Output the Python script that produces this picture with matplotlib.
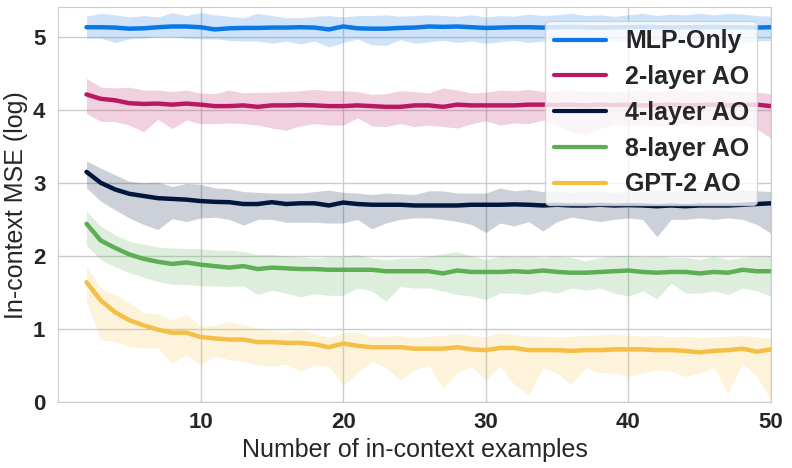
import numpy as np
import matplotlib
matplotlib.use("Agg")
import matplotlib.pyplot as plt
import seaborn as sns

x = list(range(2, 51))

labels = ["MLP-Only", "2-layer AO", "4-layer AO", "8-layer AO", "GPT-2 AO"]
colors = ["#0A77E6", "#B91964", "#00163C", "#5DAE55", "#F5BE46"]

mlp_mean = [5.13, 5.13, 5.125, 5.11, 5.115, 5.13, 5.14, 5.14, 5.13, 5.10, 5.115, 5.12, 5.12, 5.125, 5.125, 5.13, 5.125, 5.10, 5.14, 5.115, 5.11, 5.11, 5.12, 5.125,
            5.14, 5.135, 5.14, 5.13, 5.12, 5.125, 5.13, 5.13, 5.125, 5.13, 5.135, 5.13, 5.125, 5.13, 5.13, 5.135, 5.13, 5.125, 5.13, 5.13, 5.135, 5.13, 5.13, 5.125, 5.13]
mlp_upper = [5.28, 5.32, 5.30, 5.27, 5.29, 5.27, 5.33, 5.29, 5.33, 5.30, 5.28, 5.26, 5.32, 5.29, 5.26, 5.26, 5.28, 5.29, 5.27, 5.29, 5.29, 5.30, 5.28, 5.29,
             5.30, 5.29, 5.28, 5.30, 5.27, 5.29, 5.28, 5.31, 5.29, 5.30, 5.32, 5.29, 5.30, 5.28, 5.30, 5.32, 5.29, 5.31, 5.30, 5.32, 5.30, 5.32, 5.31, 5.29, 5.28]
mlp_lower = [4.98, 4.98, 4.92, 4.97, 4.98, 5.00, 5.00, 4.98, 4.97, 4.97, 4.95, 4.94, 4.94, 4.91, 4.94, 4.90, 4.94, 4.86, 4.92, 4.97, 4.89, 4.88, 4.96, 4.91,
             4.93, 4.95, 4.92, 4.94, 4.91, 4.93, 4.95, 4.92, 4.94, 4.91, 4.93, 4.95, 4.92, 4.94, 4.93, 4.91, 4.95, 4.93, 4.92, 4.94, 4.95, 4.93, 4.92, 4.94, 4.95]

l2_mean = [4.21, 4.15, 4.13, 4.09, 4.08, 4.085, 4.07, 4.085, 4.07, 4.05, 4.05, 4.06, 4.04, 4.06, 4.06, 4.065, 4.06, 4.05, 4.05, 4.06, 4.05, 4.04, 4.04, 4.06,
           4.06, 4.04, 4.07, 4.06, 4.06, 4.06, 4.06, 4.07, 4.07, 4.065, 4.07, 4.06, 4.07, 4.065, 4.07, 4.06, 4.065, 4.07, 4.06, 4.065, 4.07, 4.06, 4.07, 4.07, 4.05]
l2_upper = [4.43, 4.31, 4.30, 4.31, 4.27, 4.27, 4.25, 4.27, 4.23, 4.22, 4.27, 4.23, 4.24, 4.24, 4.25, 4.26, 4.28, 4.26, 4.26, 4.25, 4.21, 4.22, 4.26, 4.25,
            4.23, 4.30, 4.27, 4.23, 4.24, 4.27, 4.26, 4.28, 4.25, 4.26, 4.27, 4.25, 4.26, 4.24, 4.26, 4.27, 4.25, 4.28, 4.26, 4.25, 4.27, 4.26, 4.25, 4.24, 4.22]
l2_lower = [3.95, 3.84, 3.84, 3.79, 3.70, 3.87, 3.74, 3.86, 3.81, 3.81, 3.82, 3.81, 3.79, 3.75, 3.72, 3.78, 3.81, 3.79, 3.79, 3.89, 3.78, 3.77, 3.81, 3.77,
            3.79, 3.77, 3.75, 3.81, 3.85, 3.79, 3.82, 3.81, 3.86, 3.79, 3.70, 3.66, 3.74, 3.80, 3.78, 3.80, 3.77, 3.79, 3.81, 3.78, 3.80, 3.77, 3.79, 3.74, 3.61]

l4_mean = [3.15, 3.00, 2.91, 2.85, 2.82, 2.79, 2.78, 2.77, 2.75, 2.74, 2.735, 2.71, 2.71, 2.735, 2.71, 2.72, 2.72, 2.69, 2.73, 2.71, 2.70, 2.70, 2.70, 2.69,
           2.69, 2.69, 2.69, 2.70, 2.70, 2.70, 2.705, 2.70, 2.69, 2.70, 2.69, 2.69, 2.70, 2.69, 2.695, 2.69, 2.68, 2.69, 2.68, 2.69, 2.69, 2.69, 2.70, 2.71, 2.72]
l4_upper = [3.30, 3.20, 3.11, 3.02, 3.00, 3.01, 2.95, 2.99, 2.98, 2.93, 2.92, 2.88, 2.87, 2.86, 2.86, 2.86, 2.88, 2.90, 2.87, 2.86, 2.84, 2.86, 2.85, 2.84,
            2.89, 2.89, 2.86, 2.86, 2.86, 2.93, 2.89, 2.91, 2.88, 2.89, 2.87, 2.88, 2.89, 2.87, 2.88, 2.89, 2.90, 2.88, 2.91, 2.90, 2.89, 2.88, 2.90, 2.89, 2.88]
l4_lower = [2.93, 2.75, 2.63, 2.52, 2.43, 2.36, 2.51, 2.47, 2.52, 2.53, 2.50, 2.42, 2.50, 2.50, 2.46, 2.46, 2.46, 2.45, 2.45, 2.50, 2.37, 2.45, 2.50, 2.52,
            2.52, 2.50, 2.47, 2.43, 2.32, 2.45, 2.41, 2.47, 2.34, 2.47, 2.53, 2.50, 2.47, 2.50, 2.52, 2.50, 2.26, 2.50, 2.50, 2.52, 2.50, 2.52, 2.50, 2.43, 2.31]

l8_mean = [2.44, 2.21, 2.11, 2.02, 1.96, 1.92, 1.89, 1.91, 1.88, 1.86, 1.84, 1.86, 1.82, 1.84, 1.83, 1.82, 1.82, 1.81, 1.81, 1.81, 1.81, 1.79, 1.79, 1.79,
           1.79, 1.76, 1.80, 1.78, 1.78, 1.78, 1.79, 1.78, 1.80, 1.78, 1.77, 1.77, 1.78, 1.79, 1.80, 1.78, 1.77, 1.78, 1.78, 1.76, 1.78, 1.77, 1.81, 1.79, 1.79]
l8_upper = [2.61, 2.41, 2.29, 2.20, 2.16, 2.12, 2.11, 2.10, 2.10, 2.08, 2.08, 2.06, 2.02, 2.02, 2.00, 1.99, 1.97, 1.99, 2.00, 2.02, 1.97, 1.95, 1.97, 1.97,
            2.00, 2.03, 2.06, 2.00, 1.95, 2.00, 1.99, 2.00, 1.98, 2.00, 1.98, 1.93, 1.98, 2.00, 2.01, 1.99, 2.00, 1.98, 1.98, 1.95, 2.00, 1.95, 1.98, 2.00, 2.00]
l8_lower = [2.14, 1.95, 1.85, 1.77, 1.71, 1.65, 1.61, 1.61, 1.59, 1.59, 1.58, 1.59, 1.47, 1.53, 1.49, 1.44, 1.48, 1.46, 1.46, 1.56, 1.52, 1.38, 1.58, 1.56,
            1.56, 1.52, 1.47, 1.45, 1.40, 1.49, 1.49, 1.47, 1.52, 1.49, 1.56, 1.53, 1.56, 1.49, 1.45, 1.52, 1.41, 1.63, 1.49, 1.49, 1.52, 1.47, 1.56, 1.52, 1.45]

gpt_mean = [1.64, 1.39, 1.23, 1.12, 1.05, 0.99, 0.95, 0.95, 0.89, 0.87, 0.855, 0.855, 0.82, 0.82, 0.81, 0.81, 0.79, 0.75, 0.80, 0.77, 0.75, 0.75, 0.75, 0.73,
            0.73, 0.73, 0.75, 0.72, 0.71, 0.74, 0.74, 0.71, 0.71, 0.71, 0.70, 0.71, 0.71, 0.72, 0.72, 0.72, 0.71, 0.71, 0.70, 0.68, 0.70, 0.71, 0.73, 0.69, 0.72]
gpt_upper = [1.86, 1.56, 1.47, 1.36, 1.22, 1.21, 1.12, 1.20, 1.04, 1.05, 1.10, 1.06, 1.01, 0.98, 0.95, 0.99, 0.94, 0.88, 0.95, 0.95, 0.90, 0.90, 0.91, 0.88,
             0.90, 0.91, 0.94, 0.91, 0.89, 0.95, 0.92, 0.90, 0.90, 0.89, 0.90, 0.91, 0.92, 0.93, 0.91, 0.90, 0.91, 0.89, 0.90, 0.88, 0.89, 0.90, 0.91, 0.89, 0.87]
gpt_lower = [1.38, 0.85, 0.83, 0.76, 0.74, 0.74, 0.53, 0.65, 0.51, 0.63, 0.58, 0.56, 0.51, 0.49, 0.52, 0.42, 0.51, 0.49, 0.22, 0.40, 0.56, 0.47, 0.30, 0.44,
             0.50, 0.19, 0.40, 0.49, 0.30, 0.49, 0.24, 0.10, 0.47, 0.40, 0.24, 0.47, 0.40, 0.40, 0.35, 0.40, 0.44, 0.42, 0.35, 0.40, 0.47, 0.12, 0.53, 0.35, 0.03]

means = [mlp_mean, l2_mean, l4_mean, l8_mean, gpt_mean]
uppers = [mlp_upper, l2_upper, l4_upper, l8_upper, gpt_upper]
lowers = [mlp_lower, l2_lower, l4_lower, l8_lower, gpt_lower]

sns.set_style("whitegrid")
plt.rcParams['font.family'] = ['Liberation Sans', 'DejaVu Sans']

fig = plt.figure(figsize=(7.92, 4.68), dpi=100)
ax = fig.add_axes([0.0732, 0.141, 0.9003, 0.843])

for m, u, lo, c, lab in zip(means, uppers, lowers, colors, labels):
    ax.fill_between(x, lo, u, color=c, alpha=0.2, linewidth=0)
    ax.plot(x, m, color=c, linewidth=3.2, label=lab, solid_capstyle='round')

ax.set_xlim(0, 50)
ax.set_ylim(0, 5.4)
ax.set_xticks([10, 20, 30, 40, 50])
ax.set_yticks([0, 1, 2, 3, 4, 5])
for t in ax.get_xticklabels() + ax.get_yticklabels():
    t.set_fontweight('bold')
    t.set_fontsize(16)
ax.tick_params(axis='y', pad=9, length=0)
ax.tick_params(axis='x', pad=7, length=0)
ax.set_xlabel("Number of in-context examples", fontsize=18, labelpad=4, color='#262626')
ax.set_ylabel("In-context MSE (log)", fontsize=18, labelpad=4, color='#262626')
for s in ax.spines.values():
    s.set_color('#cccccc')
ax.grid(color='#cccccc', linewidth=1)

leg = ax.legend(loc='upper right', prop={'weight': 'bold', 'size': 18}, frameon=True,
                handlelength=2.1, labelspacing=0.47, borderpad=0.33, handletextpad=0.75,
                borderaxespad=0.55)
leg.get_frame().set_alpha(0.8)
for line in leg.get_lines():
    line.set_linewidth(3)

fig.savefig("out.png", dpi=100)
